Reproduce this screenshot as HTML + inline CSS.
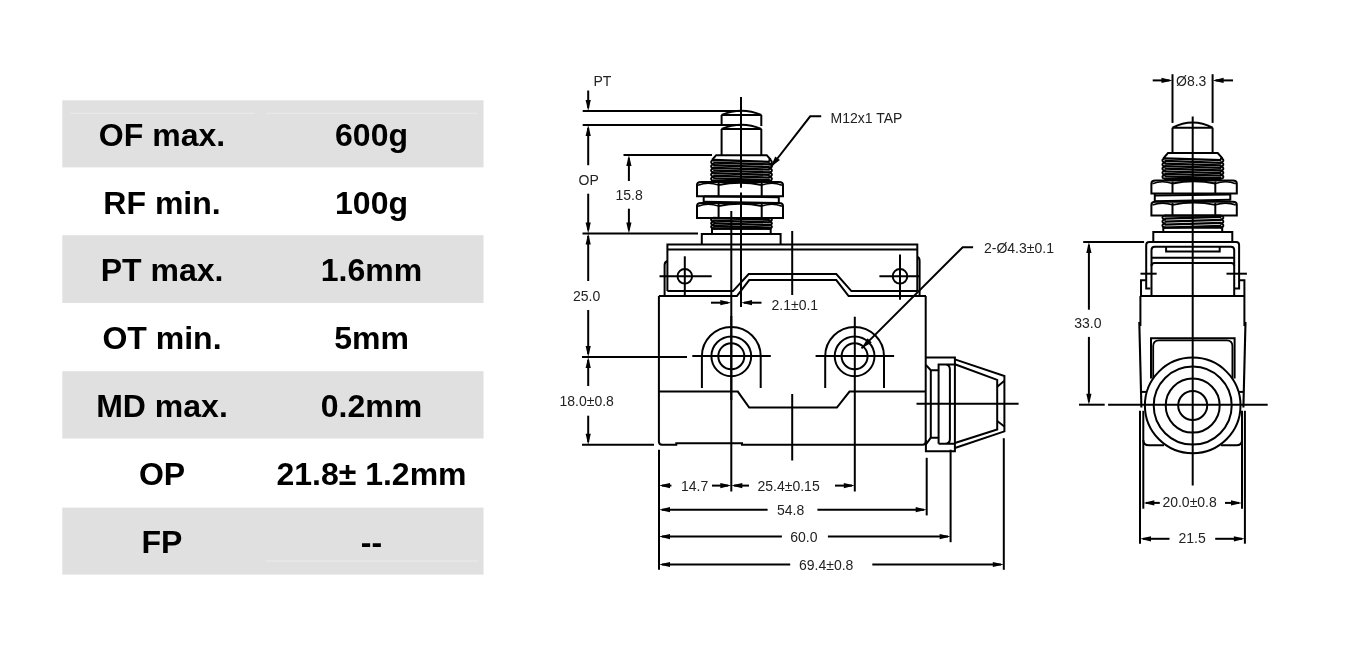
<!DOCTYPE html>
<html><head><meta charset="utf-8"><style>
html,body{margin:0;padding:0;background:#fff;width:1358px;height:669px;overflow:hidden}
svg{display:block;will-change:transform}
text{font-family:"Liberation Sans",sans-serif}
</style></head><body>
<svg width="1358" height="669" viewBox="0 0 1358 669">
<g><rect x="62.3" y="100.3" width="421.2" height="67.10" fill="#e0e0e0"/><text x="162" y="146.05" font-size="32" font-weight="700" text-anchor="middle" fill="#000">OF max.</text><text x="371.5" y="146.05" font-size="32" font-weight="700" text-anchor="middle" fill="#000">600g</text><text x="162" y="213.60" font-size="32" font-weight="700" text-anchor="middle" fill="#000">RF min.</text><text x="371.5" y="213.60" font-size="32" font-weight="700" text-anchor="middle" fill="#000">100g</text><rect x="62.3" y="235.2" width="421.2" height="67.80" fill="#e0e0e0"/><text x="162" y="281.30" font-size="32" font-weight="700" text-anchor="middle" fill="#000">PT max.</text><text x="371.5" y="281.30" font-size="32" font-weight="700" text-anchor="middle" fill="#000">1.6mm</text><text x="162" y="349.30" font-size="32" font-weight="700" text-anchor="middle" fill="#000">OT min.</text><text x="371.5" y="349.30" font-size="32" font-weight="700" text-anchor="middle" fill="#000">5mm</text><rect x="62.3" y="371.2" width="421.2" height="67.30" fill="#e0e0e0"/><text x="162" y="417.05" font-size="32" font-weight="700" text-anchor="middle" fill="#000">MD max.</text><text x="371.5" y="417.05" font-size="32" font-weight="700" text-anchor="middle" fill="#000">0.2mm</text><text x="162" y="485.30" font-size="32" font-weight="700" text-anchor="middle" fill="#000">OP</text><text x="371.5" y="485.30" font-size="32" font-weight="700" text-anchor="middle" fill="#000">21.8± 1.2mm</text><rect x="62.3" y="507.6" width="421.2" height="67.00" fill="#e0e0e0"/><text x="162" y="553.30" font-size="32" font-weight="700" text-anchor="middle" fill="#000">FP</text><text x="371.5" y="553.30" font-size="32" font-weight="700" text-anchor="middle" fill="#000">--</text><line x1="70.3" y1="113.3" x2="254.5" y2="113.3" stroke="#ececec" stroke-width="1"/><line x1="266.5" y1="113.3" x2="477" y2="113.3" stroke="#ececec" stroke-width="1"/><line x1="266.3" y1="561" x2="477.7" y2="561" stroke="#ececec" stroke-width="1"/></g>
<g stroke="#000" fill="none" stroke-linecap="butt" stroke-linejoin="miter">
<text x="593.5" y="86" font-size="14" text-anchor="start" fill="#222" stroke="none">PT</text>
<path d="M588.20,90.50 L588.20,108.00" stroke-width="2" />
<path d="M588.20,111.00 L585.60,100.00 L590.80,100.00Z" fill="#000" stroke="none"/>
<path d="M582.70,111.00 L741.00,111.00" stroke-width="2" />
<path d="M582.70,125.00 L741.00,125.00" stroke-width="2" />
<path d="M588.20,128.00 L588.20,165.20" stroke-width="2" />
<path d="M588.20,125.00 L585.60,136.00 L590.80,136.00Z" fill="#000" stroke="none"/>
<text x="578.5" y="185.2" font-size="14" text-anchor="start" fill="#222" stroke="none">OP</text>
<path d="M588.20,193.70 L588.20,230.00" stroke-width="2" />
<path d="M588.20,233.40 L585.60,222.40 L590.80,222.40Z" fill="#000" stroke="none"/>
<path d="M582.50,233.40 L698.00,233.40" stroke-width="2" />
<path d="M588.20,236.00 L588.20,281.00" stroke-width="2" />
<path d="M588.20,233.40 L585.60,244.40 L590.80,244.40Z" fill="#000" stroke="none"/>
<text x="573" y="301" font-size="14" text-anchor="start" fill="#222" stroke="none">25.0</text>
<path d="M588.20,310.00 L588.20,354.00" stroke-width="2" />
<path d="M588.20,357.00 L585.60,346.00 L590.80,346.00Z" fill="#000" stroke="none"/>
<path d="M582.00,357.00 L687.00,357.00" stroke-width="2" />
<path d="M588.20,360.00 L588.20,386.00" stroke-width="2" />
<path d="M588.20,357.00 L585.60,368.00 L590.80,368.00Z" fill="#000" stroke="none"/>
<text x="559.5" y="406.3" font-size="14" text-anchor="start" fill="#222" stroke="none">18.0±0.8</text>
<path d="M588.20,415.70 L588.20,442.00" stroke-width="2" />
<path d="M588.20,444.80 L585.60,433.80 L590.80,433.80Z" fill="#000" stroke="none"/>
<path d="M582.00,444.80 L654.00,444.80" stroke-width="2" />
<path d="M623.50,155.00 L712.00,155.00" stroke-width="2" />
<path d="M628.90,158.00 L628.90,181.00" stroke-width="2" />
<path d="M628.90,155.00 L626.30,166.00 L631.50,166.00Z" fill="#000" stroke="none"/>
<text x="615.5" y="199.8" font-size="14" text-anchor="start" fill="#222" stroke="none">15.8</text>
<path d="M628.90,208.70 L628.90,230.00" stroke-width="2" />
<path d="M628.90,233.40 L626.30,222.40 L631.50,222.40Z" fill="#000" stroke="none"/>
<path d="M721.6,115 Q741.5,106.5 761.3,115 Z" stroke-width="2" fill="none" />
<path d="M721.60,115.00 L721.60,126.00" stroke-width="2" />
<path d="M761.30,115.00 L761.30,126.00" stroke-width="2" />
<path d="M721.6,129 Q741.5,120.5 761.3,129 Z" stroke-width="2" fill="none" />
<path d="M721.60,129.00 L721.60,155.50" stroke-width="2" />
<path d="M761.30,129.00 L761.30,155.50" stroke-width="2" />
<path d="M712,160 L716.2,155.2 H766.7 L771,160" stroke-width="2" fill="none" />
<path d="M714.50,160.00 Q710.80,160.42 711.20,162.10 Q710.80,163.78 714.50,164.20 Q710.80,164.62 711.20,166.30 Q710.80,167.98 714.50,168.40 Q710.80,168.82 711.20,170.50 Q710.80,172.18 714.50,172.60 Q710.80,173.02 711.20,174.70 Q710.80,176.38 714.50,176.80 Q710.80,177.22 711.20,178.90 Q710.80,180.58 714.50,181.00" stroke-width="1.9" fill="none" />
<path d="M768.50,160.00 Q772.20,160.42 771.80,162.10 Q772.20,163.78 768.50,164.20 Q772.20,164.62 771.80,166.30 Q772.20,167.98 768.50,168.40 Q772.20,168.82 771.80,170.50 Q772.20,172.18 768.50,172.60 Q772.20,173.02 771.80,174.70 Q772.20,176.38 768.50,176.80 Q772.20,177.22 771.80,178.90 Q772.20,180.58 768.50,181.00" stroke-width="1.9" fill="none" />
<path d="M713.20,160.00 L769.80,161.80" stroke-width="2.3" />
<path d="M713.20,162.62 L769.80,164.43" stroke-width="2.3" />
<path d="M713.20,165.25 L769.80,167.05" stroke-width="2.3" />
<path d="M713.20,167.88 L769.80,169.68" stroke-width="2.3" />
<path d="M713.20,170.50 L769.80,172.30" stroke-width="2.3" />
<path d="M713.20,173.12 L769.80,174.93" stroke-width="2.3" />
<path d="M713.20,175.75 L769.80,177.55" stroke-width="2.3" />
<path d="M713.20,178.38 L769.80,180.18" stroke-width="2.3" />
<path d="M713.20,181.00 L769.80,181.00" stroke-width="2.3" />
<path d="M697,196.2 V185 Q697,182 701,182 H779 Q783,182 783,185 V196.2 Z" stroke-width="2" fill="none" />
<path d="M718.60,183.00 L718.60,196.20" stroke-width="2" />
<path d="M761.70,183.00 L761.70,196.20" stroke-width="2" />
<path d="M718.6,185 Q740.1500000000001,180.5 761.7,185" stroke-width="1.8" fill="none" />
<path d="M698,185.2 Q707.8,181.5 718.6,185" stroke-width="1.6" fill="none" />
<path d="M761.7,185 Q772.35,181.5 782,185.2" stroke-width="1.6" fill="none" />
<path d="M703.7,196.2 V202.6 M778.8,196.2 V203.4" stroke-width="2" fill="none" />
<path d="M703.70,196.60 L778.80,197.20" stroke-width="2" />
<path d="M703.70,201.70 L778.80,203.10" stroke-width="2" />
<path d="M697,218 V206 Q697,203 701,203 H779 Q783,203 783,206 V218 Z" stroke-width="2" fill="none" />
<path d="M718.60,204.00 L718.60,218.00" stroke-width="2" />
<path d="M761.70,204.00 L761.70,218.00" stroke-width="2" />
<path d="M718.6,206 Q740.1500000000001,201.5 761.7,206" stroke-width="1.8" fill="none" />
<path d="M698,206.2 Q707.8,202.5 718.6,206" stroke-width="1.6" fill="none" />
<path d="M761.7,206 Q772.35,202.5 782,206.2" stroke-width="1.6" fill="none" />
<path d="M714.50,218.00 Q710.80,218.35 711.20,219.75 Q710.80,221.15 714.50,221.50 Q710.80,221.85 711.20,223.25 Q710.80,224.65 714.50,225.00 Q710.80,225.35 711.20,226.75 Q710.80,228.15 714.50,228.50" stroke-width="1.9" fill="none" />
<path d="M768.50,218.00 Q772.20,218.35 771.80,219.75 Q772.20,221.15 768.50,221.50 Q772.20,221.85 771.80,223.25 Q772.20,224.65 768.50,225.00 Q772.20,225.35 771.80,226.75 Q772.20,228.15 768.50,228.50" stroke-width="1.9" fill="none" />
<path d="M713.20,218.00 L769.80,219.80" stroke-width="2.3" />
<path d="M713.20,220.62 L769.80,222.43" stroke-width="2.3" />
<path d="M713.20,223.25 L769.80,225.05" stroke-width="2.3" />
<path d="M713.20,225.88 L769.80,227.68" stroke-width="2.3" />
<path d="M713.20,228.50 L769.80,228.50" stroke-width="2.3" />
<path d="M712,228.8 H770.7 V234 H712 Z" stroke-width="2" fill="none" />
<path d="M701.8,244 V234 H780.6 V244" stroke-width="2" fill="none" />
<path d="M741.00,97.00 L741.00,187.80" stroke-width="2" />
<path d="M741.00,192.50 L741.00,307.00" stroke-width="2" />
<path d="M731.30,211.00 L731.30,491.50" stroke-width="2" />
<path d="M792.20,231.00 L792.20,295.00" stroke-width="2" />
<path d="M792.20,394.00 L792.20,460.50" stroke-width="2" />
<path d="M854.80,316.70 L854.80,491.50" stroke-width="2" />
<path d="M821.20,116.30 L810.20,116.30 L770.80,167.00" stroke-width="2" />
<path d="M770.50,167.30 L775.20,156.38 L779.93,160.07Z" fill="#000" stroke="none"/>
<text x="830.5" y="122.8" font-size="14" text-anchor="start" fill="#222" stroke="none">M12x1 TAP</text>
<path d="M667.4,291.1 V244.5 H917.3 V291.1" stroke-width="2" fill="none" />
<path d="M667.40,249.40 L917.30,249.40" stroke-width="2" />
<path d="M667.40,291.10 L733.00,291.10 L748.70,274.00 L836.30,274.00 L851.40,291.10 L917.30,291.10" stroke-width="2" />
<path d="M658.90,296.10 L736.90,296.10 L749.20,280.10 L836.30,280.10 L848.60,296.10 L926.00,296.10" stroke-width="2" />
<path d="M664.6,296 V265 Q664.6,262 667.4,261" stroke-width="2" fill="none" />
<path d="M917.3,257 Q919.6,257.5 919.6,261 V296" stroke-width="2" fill="none" />
<circle cx="684.8" cy="276.3" r="7.3" stroke-width="2" fill="none"/>
<circle cx="900" cy="276.3" r="7.3" stroke-width="2" fill="none"/>
<path d="M659.50,276.30 L711.70,276.30" stroke-width="2" />
<path d="M684.80,256.30 L684.80,297.00" stroke-width="2" />
<path d="M879.40,276.30 L919.80,276.30" stroke-width="2" />
<path d="M900.00,254.60 L900.00,299.80" stroke-width="2" />
<path d="M711.00,302.70 L728.00,302.70" stroke-width="2" />
<path d="M731.30,302.70 L720.30,300.10 L720.30,305.30Z" fill="#000" stroke="none"/>
<path d="M761.50,302.70 L744.00,302.70" stroke-width="2" />
<path d="M741.00,302.70 L752.00,300.10 L752.00,305.30Z" fill="#000" stroke="none"/>
<text x="771.5" y="309.5" font-size="14" text-anchor="start" fill="#222" stroke="none">2.1±0.1</text>
<path d="M658.9,296.1 V441.6 Q658.9,444.8 662.1,444.8 H676.3 V443.2 H742 V444.8 H922.5 Q925.7,444.8 925.7,441.6 V296.1" stroke-width="2" fill="none" />
<path d="M658.90,391.60 L737.80,391.60 L749.20,407.60 L836.90,407.60 L849.50,391.60 L925.70,391.60" stroke-width="2" />
<path d="M701.9,388 V356.3 A29.4,29.4 0 0 1 760.6999999999999,356.3 V388" stroke-width="2" fill="none" />
<circle cx="731.3" cy="356.3" r="19.9" stroke-width="2" fill="none"/>
<circle cx="731.3" cy="356.3" r="13" stroke-width="2" fill="none"/>
<path d="M692.30,356.00 L770.80,356.00" stroke-width="2" />
<path d="M825.2,388 V356.3 A29.4,29.4 0 0 1 884.0,356.3 V388" stroke-width="2" fill="none" />
<circle cx="854.6" cy="356.3" r="19.9" stroke-width="2" fill="none"/>
<circle cx="854.6" cy="356.3" r="13" stroke-width="2" fill="none"/>
<path d="M815.60,356.00 L894.10,356.00" stroke-width="2" />
<path d="M731.30,316.00 L731.30,400.00" stroke-width="2" />
<path d="M692.00,357.00 L692.00,357.00" stroke-width="2" />
<path d="M973.10,247.20 L962.70,247.20 L861.50,348.40" stroke-width="2" />
<path d="M861.50,348.40 L867.51,338.15 L871.75,342.39Z" fill="#000" stroke="none"/>
<text x="984" y="252.9" font-size="14" text-anchor="start" fill="#222" stroke="none">2-Ø4.3±0.1</text>
<path d="M925.9,357.5 H954.9 V451.2 H925.9 V440" stroke-width="2" fill="none" />
<path d="M925.9,365 L930.8,370.2 H938.5" stroke-width="2" fill="none" />
<path d="M925.9,444.5 L930.7,437.8 H938.5" stroke-width="2" fill="none" />
<path d="M930.80,370.20 L930.80,437.80" stroke-width="2" />
<path d="M938.6,443.8 V364.6 H954.9 M945.4,364.6 Q949.9,365 949.9,369.4 V439 Q949.9,443.8 945,443.8 M938.6,443.8 H954.9" stroke-width="2" fill="none" />
<path d="M954.9,359.4 L1004.4,376 V431.4 L954.9,448" stroke-width="2" fill="none" />
<path d="M954.9,364.3 L997.2,379.9 V429.4 L954.9,443" stroke-width="2" fill="none" />
<path d="M997.20,386.70 L1004.40,380.80" stroke-width="2" />
<path d="M997.20,421.00 L1004.40,426.50" stroke-width="2" />
<path d="M916.50,403.80 L1018.60,403.80" stroke-width="2" />
<path d="M659.00,449.70 L659.00,569.70" stroke-width="2" />
<path d="M926.70,457.80 L926.70,515.40" stroke-width="2" />
<path d="M950.60,449.70 L950.60,542.20" stroke-width="2" />
<path d="M1003.80,438.20 L1003.80,569.80" stroke-width="2" />
<path d="M659.00,485.60 L670.00,483.00 L670.00,488.20Z" fill="#000" stroke="none"/>
<path d="M662.00,485.60 L671.40,485.60" stroke-width="2" />
<path d="M731.30,485.60 L720.30,483.00 L720.30,488.20Z" fill="#000" stroke="none"/>
<path d="M712.00,485.60 L728.00,485.60" stroke-width="2" />
<path d="M731.30,485.60 L742.30,483.00 L742.30,488.20Z" fill="#000" stroke="none"/>
<path d="M734.00,485.60 L749.00,485.60" stroke-width="2" />
<path d="M854.80,485.60 L843.80,483.00 L843.80,488.20Z" fill="#000" stroke="none"/>
<path d="M835.00,485.60 L852.00,485.60" stroke-width="2" />
<text x="681" y="490.8" font-size="14" text-anchor="start" fill="#222" stroke="none">14.7</text>
<text x="757.5" y="490.8" font-size="14" text-anchor="start" fill="#222" stroke="none">25.4±0.15</text>
<path d="M659.00,509.70 L670.00,507.10 L670.00,512.30Z" fill="#000" stroke="none"/>
<path d="M662.00,509.70 L767.60,509.70" stroke-width="2" />
<path d="M817.40,509.70 L924.00,509.70" stroke-width="2" />
<path d="M926.70,509.70 L915.70,507.10 L915.70,512.30Z" fill="#000" stroke="none"/>
<text x="777" y="514.9" font-size="14" text-anchor="start" fill="#222" stroke="none">54.8</text>
<path d="M659.00,536.60 L670.00,534.00 L670.00,539.20Z" fill="#000" stroke="none"/>
<path d="M662.00,536.60 L781.90,536.60" stroke-width="2" />
<path d="M827.90,536.60 L948.00,536.60" stroke-width="2" />
<path d="M950.60,536.60 L939.60,534.00 L939.60,539.20Z" fill="#000" stroke="none"/>
<text x="790.3" y="541.8" font-size="14" text-anchor="start" fill="#222" stroke="none">60.0</text>
<path d="M659.00,564.50 L670.00,561.90 L670.00,567.10Z" fill="#000" stroke="none"/>
<path d="M662.00,564.50 L790.20,564.50" stroke-width="2" />
<path d="M872.30,564.50 L1001.00,564.50" stroke-width="2" />
<path d="M1003.80,564.50 L992.80,561.90 L992.80,567.10Z" fill="#000" stroke="none"/>
<text x="799" y="569.7" font-size="14" text-anchor="start" fill="#222" stroke="none">69.4±0.8</text>
<path d="M1172.50,74.20 L1172.50,122.90" stroke-width="2" />
<path d="M1212.60,74.20 L1212.60,122.90" stroke-width="2" />
<path d="M1152.70,80.40 L1169.50,80.40" stroke-width="2" />
<path d="M1172.50,80.40 L1161.50,77.80 L1161.50,83.00Z" fill="#000" stroke="none"/>
<path d="M1233.00,80.40 L1215.60,80.40" stroke-width="2" />
<path d="M1212.60,80.40 L1223.60,77.80 L1223.60,83.00Z" fill="#000" stroke="none"/>
<text x="1176" y="86.1" font-size="14" text-anchor="start" fill="#222" stroke="none">Ø8.3</text>
<path d="M1172.5,127.7 Q1192.6,117.5 1212.6,127.7 Z" stroke-width="2" fill="none" />
<path d="M1172.50,127.70 L1172.50,153.50" stroke-width="2" />
<path d="M1212.60,127.70 L1212.60,153.50" stroke-width="2" />
<path d="M1163.3,158.4 L1168,153 H1217.7 L1222.5,158.4" stroke-width="2" fill="none" />
<path d="M1165.80,158.40 Q1162.10,158.81 1162.50,160.46 Q1162.10,162.11 1165.80,162.52 Q1162.10,162.93 1162.50,164.58 Q1162.10,166.23 1165.80,166.64 Q1162.10,167.05 1162.50,168.70 Q1162.10,170.35 1165.80,170.76 Q1162.10,171.17 1162.50,172.82 Q1162.10,174.47 1165.80,174.88 Q1162.10,175.29 1162.50,176.94 Q1162.10,178.59 1165.80,179.00" stroke-width="1.9" fill="none" />
<path d="M1220.00,158.40 Q1223.70,158.81 1223.30,160.46 Q1223.70,162.11 1220.00,162.52 Q1223.70,162.93 1223.30,164.58 Q1223.70,166.23 1220.00,166.64 Q1223.70,167.05 1223.30,168.70 Q1223.70,170.35 1220.00,170.76 Q1223.70,171.17 1223.30,172.82 Q1223.70,174.47 1220.00,174.88 Q1223.70,175.29 1223.30,176.94 Q1223.70,178.59 1220.00,179.00" stroke-width="1.9" fill="none" />
<path d="M1164.50,158.40 L1221.30,160.20" stroke-width="2.3" />
<path d="M1164.50,160.97 L1221.30,162.78" stroke-width="2.3" />
<path d="M1164.50,163.55 L1221.30,165.35" stroke-width="2.3" />
<path d="M1164.50,166.12 L1221.30,167.93" stroke-width="2.3" />
<path d="M1164.50,168.70 L1221.30,170.50" stroke-width="2.3" />
<path d="M1164.50,171.28 L1221.30,173.08" stroke-width="2.3" />
<path d="M1164.50,173.85 L1221.30,175.65" stroke-width="2.3" />
<path d="M1164.50,176.43 L1221.30,178.23" stroke-width="2.3" />
<path d="M1164.50,179.00 L1221.30,179.00" stroke-width="2.3" />
<path d="M1151.4,193.5 V183.5 Q1151.4,180.5 1155.4,180.5 H1232.8 Q1236.8,180.5 1236.8,183.5 V193.5 Z" stroke-width="2" fill="none" />
<path d="M1172.50,181.50 L1172.50,193.50" stroke-width="2" />
<path d="M1215.30,181.50 L1215.30,193.50" stroke-width="2" />
<path d="M1172.5,183.5 Q1193.9,179.0 1215.3,183.5" stroke-width="1.8" fill="none" />
<path d="M1152.4,183.7 Q1161.95,180.0 1172.5,183.5" stroke-width="1.6" fill="none" />
<path d="M1215.3,183.5 Q1226.05,180.0 1235.8,183.7" stroke-width="1.6" fill="none" />
<path d="M1154.8,193.5 V201.5 M1230.3,193.5 V200.5" stroke-width="2" fill="none" />
<path d="M1154.80,195.40 L1230.30,194.40" stroke-width="2" />
<path d="M1154.80,201.20 L1230.30,199.80" stroke-width="2" />
<path d="M1151.4,215.6 V204.8 Q1151.4,201.8 1155.4,201.8 H1232.8 Q1236.8,201.8 1236.8,204.8 V215.6 Z" stroke-width="2" fill="none" />
<path d="M1172.50,202.80 L1172.50,215.60" stroke-width="2" />
<path d="M1215.30,202.80 L1215.30,215.60" stroke-width="2" />
<path d="M1172.5,204.8 Q1193.9,200.3 1215.3,204.8" stroke-width="1.8" fill="none" />
<path d="M1152.4,205.0 Q1161.95,201.3 1172.5,204.8" stroke-width="1.6" fill="none" />
<path d="M1215.3,204.8 Q1226.05,201.3 1235.8,205.0" stroke-width="1.6" fill="none" />
<path d="M1165.80,215.60 Q1162.10,216.00 1162.50,217.60 Q1162.10,219.20 1165.80,219.60 Q1162.10,220.00 1162.50,221.60 Q1162.10,223.20 1165.80,223.60 Q1162.10,224.00 1162.50,225.60 Q1162.10,227.20 1165.80,227.60" stroke-width="1.9" fill="none" />
<path d="M1220.00,215.60 Q1223.70,216.00 1223.30,217.60 Q1223.70,219.20 1220.00,219.60 Q1223.70,220.00 1223.30,221.60 Q1223.70,223.20 1220.00,223.60 Q1223.70,224.00 1223.30,225.60 Q1223.70,227.20 1220.00,227.60" stroke-width="1.9" fill="none" />
<path d="M1164.50,215.60 L1221.30,215.60" stroke-width="2.3" />
<path d="M1164.50,218.60 L1221.30,216.80" stroke-width="2.3" />
<path d="M1164.50,221.60 L1221.30,219.80" stroke-width="2.3" />
<path d="M1164.50,224.60 L1221.30,222.80" stroke-width="2.3" />
<path d="M1164.50,227.60 L1221.30,225.80" stroke-width="2.3" />
<path d="M1163.3,227.8 H1222.2 V232 H1163.3 Z" stroke-width="2" fill="none" />
<path d="M1153.3,242 V232 H1232.3 V242" stroke-width="2" fill="none" />
<path d="M1192.70,116.60 L1192.70,485.40" stroke-width="2" />
<path d="M1083.20,242.00 L1144.10,242.00" stroke-width="2" />
<path d="M1088.90,245.00 L1088.90,309.70" stroke-width="2" />
<path d="M1088.90,242.00 L1086.30,253.00 L1091.50,253.00Z" fill="#000" stroke="none"/>
<text x="1074.3" y="328.2" font-size="14" text-anchor="start" fill="#222" stroke="none">33.0</text>
<path d="M1088.90,336.90 L1088.90,401.70" stroke-width="2" />
<path d="M1088.90,404.70 L1086.30,393.70 L1091.50,393.70Z" fill="#000" stroke="none"/>
<path d="M1079.00,404.70 L1104.70,404.70" stroke-width="2" />
<path d="M1150.4,288.6 H1146.2 V245 Q1146.2,242 1149.2,242 H1236.1 Q1239.1,242 1239.1,245 V288.6 H1234.9" stroke-width="2" fill="none" />
<path d="M1151.5,296 V250 Q1151.5,246.7 1154.8,246.7 H1230.9 Q1234.2,246.7 1234.2,250 V296" stroke-width="2" fill="none" />
<path d="M1166.1,246.7 V251.5 H1219.7 V246.7" stroke-width="2" fill="none" />
<path d="M1151.50,257.70 L1234.20,257.70" stroke-width="2" />
<path d="M1151.5,266 Q1151.5,263 1154.5,263 H1231.2 Q1234.2,263 1234.2,266" stroke-width="2" fill="none" />
<path d="M1140.50,273.70 L1156.70,273.70" stroke-width="2" />
<path d="M1226.50,273.70 L1246.90,273.70" stroke-width="2" />
<path d="M1141,296 V280.2 H1145.7" stroke-width="2" fill="none" />
<path d="M1244.4,296 V280.2 H1239.7" stroke-width="2" fill="none" />
<path d="M1140.40,296.00 L1244.40,296.00" stroke-width="2" />
<path d="M1140.40,296.00 L1140.40,326.00" stroke-width="2" />
<path d="M1244.40,296.00 L1244.40,326.00" stroke-width="2" />
<path d="M1139.3,322 L1141.4,407.5" stroke-width="2.1" fill="none" />
<path d="M1245.5,322 L1243.4,407.5" stroke-width="2.1" fill="none" />
<path d="M1151,378.5 V338.3 H1234.6 V378.5" stroke-width="2" fill="none" />
<path d="M1153.2,379 V346 Q1153.2,340.3 1159,340.3 H1226.8 Q1232.4,340.3 1232.4,346 V379" stroke-width="1.8" fill="none" />
<path d="M1141.40,391.90 L1146.20,391.90" stroke-width="2" />
<path d="M1239.00,391.90 L1243.40,391.90" stroke-width="2" />
<circle cx="1192.7" cy="405.4" r="47.8" stroke-width="2" fill="none"/>
<circle cx="1192.7" cy="405.6" r="39" stroke-width="2" fill="none"/>
<circle cx="1192.7" cy="405.6" r="27" stroke-width="2" fill="none"/>
<circle cx="1192.7" cy="405.5" r="14.5" stroke-width="2" fill="none"/>
<path d="M1108.10,404.80 L1267.70,404.80" stroke-width="2" />
<path d="M1140.00,410.80 L1140.00,543.70" stroke-width="2" />
<path d="M1244.90,410.80 L1244.90,543.70" stroke-width="2" />
<path d="M1143.3,508.7 V410.8" stroke-width="2" fill="none" />
<path d="M1242,508.7 V410.8" stroke-width="2" fill="none" />
<path d="M1143.3,440 Q1143.3,445.3 1149,445.3 H1164" stroke-width="2" fill="none" />
<path d="M1242,440 Q1242,445.3 1236.3,445.3 H1221" stroke-width="2" fill="none" />
<path d="M1143.30,502.90 L1154.30,500.30 L1154.30,505.50Z" fill="#000" stroke="none"/>
<path d="M1146.00,502.90 L1159.80,502.90" stroke-width="2" />
<path d="M1242.00,502.90 L1231.00,500.30 L1231.00,505.50Z" fill="#000" stroke="none"/>
<path d="M1225.00,502.90 L1239.00,502.90" stroke-width="2" />
<text x="1162.4" y="507.3" font-size="14" text-anchor="start" fill="#222" stroke="none">20.0±0.8</text>
<path d="M1140.00,538.80 L1151.00,536.20 L1151.00,541.40Z" fill="#000" stroke="none"/>
<path d="M1143.00,538.80 L1169.50,538.80" stroke-width="2" />
<path d="M1244.90,538.80 L1233.90,536.20 L1233.90,541.40Z" fill="#000" stroke="none"/>
<path d="M1215.20,538.80 L1242.00,538.80" stroke-width="2" />
<text x="1178.5" y="543.3" font-size="14" text-anchor="start" fill="#222" stroke="none">21.5</text>
</g>
</svg>
</body></html>
